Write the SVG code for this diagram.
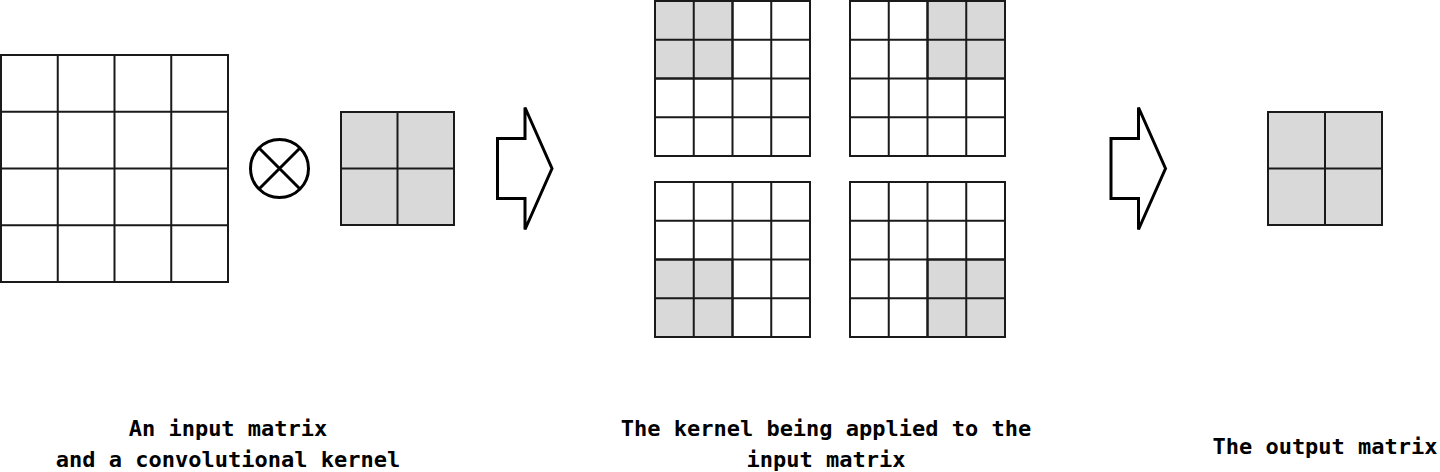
<svg xmlns="http://www.w3.org/2000/svg" width="1440" height="472" viewBox="0 0 1440 472">
<style>
.g{fill:none;stroke:#1a1a1a;stroke-width:2}
.w{fill:#ffffff;stroke:#1a1a1a;stroke-width:2}
.s{fill:#d9d9d9;stroke:#1a1a1a;stroke-width:2}
.arr{fill:#ffffff;stroke:#000;stroke-width:3;stroke-linejoin:miter}
.t{font-family:"DejaVu Sans Mono","Liberation Mono",monospace;font-weight:bold;font-size:22px;fill:#000;text-anchor:middle}
</style>
<rect width="1440" height="472" fill="#ffffff"/>

<g id="input-matrix">
<rect class="w" x="1" y="55" width="227" height="227"/>
<path class="g" d="M57.75 55V282M114.5 55V282M171.25 55V282M1 111.75H228M1 168.5H228M1 225.25H228"/>
</g>

<g id="conv-operator">
<circle cx="279.5" cy="168.5" r="29" fill="#fff" stroke="#000" stroke-width="3"/>
<path d="M259 148L300 189M300 148L259 189" stroke="#000" stroke-width="3" fill="none"/>
</g>

<g id="kernel">
<rect class="s" x="341" y="112" width="113" height="113"/>
<path class="g" d="M397.5 112V225M341 168.5H454"/>
</g>

<g id="applied-tl">
<rect class="w" x="655" y="1" width="155" height="155"/>
<rect class="s" x="655" y="1" width="77.5" height="77.5"/>
<path class="g" d="M693.75 1V156M732.5 1V156M771.25 1V156M655 39.75H810M655 78.5H810M655 117.25H810"/>
</g>

<g id="applied-tr">
<rect class="w" x="850" y="1" width="155" height="155"/>
<rect class="s" x="927.5" y="1" width="77.5" height="77.5"/>
<path class="g" d="M888.75 1V156M927.5 1V156M966.25 1V156M850 39.75H1005M850 78.5H1005M850 117.25H1005"/>
</g>

<g id="applied-bl">
<rect class="w" x="655" y="182" width="155" height="155"/>
<rect class="s" x="655" y="259.5" width="77.5" height="77.5"/>
<path class="g" d="M693.75 182V337M732.5 182V337M771.25 182V337M655 220.75H810M655 259.5H810M655 298.25H810"/>
</g>

<g id="applied-br">
<rect class="w" x="850" y="182" width="155" height="155"/>
<rect class="s" x="927.5" y="259.5" width="77.5" height="77.5"/>
<path class="g" d="M888.75 182V337M927.5 182V337M966.25 182V337M850 220.75H1005M850 259.5H1005M850 298.25H1005"/>
</g>

<g id="output-matrix">
<rect class="s" x="1268" y="112" width="114" height="113"/>
<path class="g" d="M1325 112V225M1268 168.5H1382"/>
</g>

<g id="connectors">
<polygon class="arr" points="497.5,138.5 525,138.5 525,107.5 552,168.5 525,229.5 525,198.5 497.5,198.5"/>
<polygon class="arr" points="1111,138.5 1138.5,138.5 1138.5,107.5 1165.5,168.5 1138.5,229.5 1138.5,198.5 1111,198.5"/>
</g>

<g id="labels">
<text class="t" x="228" y="436">An input matrix</text>
<text class="t" x="228" y="467">and a convolutional kernel</text>
<text class="t" x="826" y="436">The kernel being applied to the</text>
<text class="t" x="826" y="467">input matrix</text>
<text class="t" x="1325" y="454">The output matrix</text>
</g>
</svg>
